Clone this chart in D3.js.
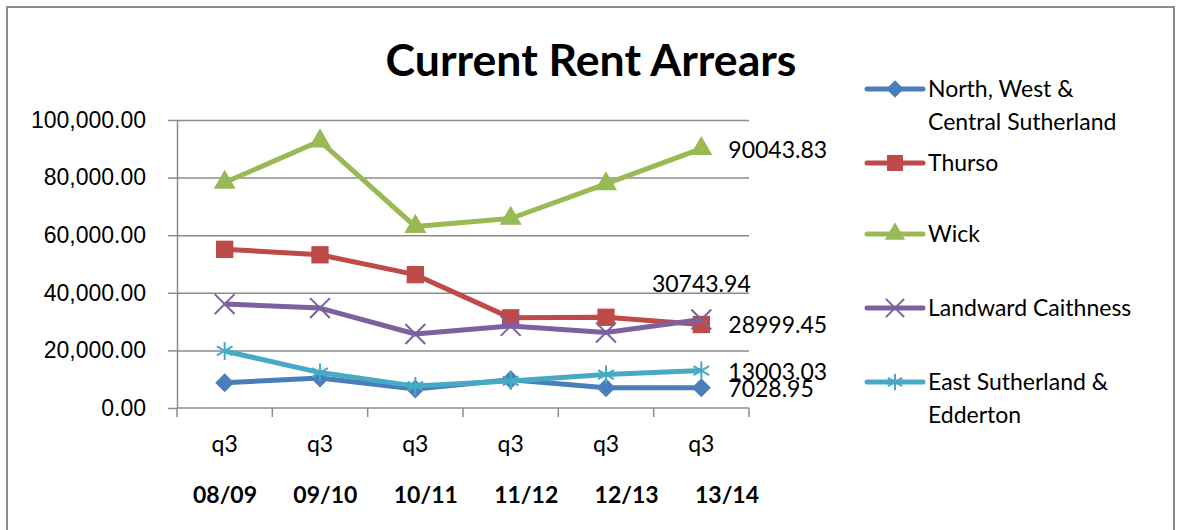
<!DOCTYPE html>
<html>
<head>
<meta charset="utf-8">
<script src="https://cdn.jsdelivr.net/npm/d3@7"></script>
<style>
  body { margin: 0; background: #fff; }
  svg { display: block; font-family: Lato, "Open Sans", sans-serif; }
  .grid line { stroke: #8c8c8c; stroke-width: 1.5; }
  .grid .domain { display: none; }
  .axis .domain, .axis line { stroke: #8c8c8c; stroke-width: 1.5; }
  .axis text { font-size: 23px; fill: #000; }
</style>
</head>
<body>
<svg id="chart"></svg>
<script>
// quarters and financial years
var quarters = ['q3', 'q3', 'q3', 'q3', 'q3', 'q3'];
var years = ['08/09', '09/10', '10/11', '11/12', '12/13', '13/14'];

// series values
var northWest = [8800, 10400, 6600, 9800, 7000, 7028.95];
var thurso = [55100, 53200, 46300, 31300, 31500, 28999.45];
var wick = [78300, 92700, 63000, 65800, 77800, 90043.83];
var landward = [36100, 34700, 25700, 28500, 26200, 30743.94];
var eastSutherland = [19800, 12300, 7600, 9400, 11600, 13003.03];

var seriesNames = ['North, West & Central Sutherland', 'Thurso', 'Wick', 'Landward Caithness', 'East Sutherland & Edderton'];
var yTicks = [0, 20000, 40000, 60000, 80000, 100000];

var series = [
  { name: seriesNames[0], values: northWest, color: '#4A7EBB', symbol: 'diamond', label: 'right',
    legend: ['North, West &', 'Central Sutherland'] },
  { name: seriesNames[1], values: thurso, color: '#BE4B48', symbol: 'square', label: 'right',
    legend: ['Thurso'] },
  { name: seriesNames[2], values: wick, color: '#98B954', symbol: 'triangle', label: 'right',
    legend: ['Wick'] },
  { name: seriesNames[3], values: landward, color: '#7D60A0', symbol: 'times', label: 'above',
    legend: ['Landward Caithness'] },
  { name: seriesNames[4], values: eastSutherland, color: '#46AAC5', symbol: 'asterisk', label: 'right',
    legend: ['East Sutherland &', 'Edderton'] }
];

var W = 1177, H = 530;
var plot = { left: 177, right: 749, top: 120, bottom: 408 };

var svg = d3.select('#chart').attr('width', W).attr('height', H);

// outer frame
svg.append('rect')
  .attr('x', 7).attr('y', 7)
  .attr('width', 1167).attr('height', 540)
  .attr('fill', 'none')
  .attr('stroke', '#8c8c8c')
  .attr('stroke-width', 2);

var idx = d3.range(years.length);
var x = d3.scaleBand().domain(idx).range([plot.left, plot.right]).padding(0);
var y = d3.scaleLinear().domain([0, 100000]).range([plot.bottom, plot.top]);
// the year row sits a little wider than the quarter row
var xYear = d3.scalePoint().domain(idx).range([225, 727]);

var cx = function (i) { return x(i) + x.bandwidth() / 2; };

// gridlines
svg.append('g')
  .attr('class', 'grid')
  .attr('transform', 'translate(' + plot.left + ',0)')
  .call(d3.axisLeft(y).tickValues(yTicks.slice(1)).tickSize(-(plot.right - plot.left)).tickFormat(''));

// y axis
svg.append('g')
  .attr('class', 'axis')
  .attr('transform', 'translate(' + plot.left + ',0)')
  .call(d3.axisLeft(y).tickValues(yTicks).tickSize(9).tickSizeOuter(0).tickPadding(22)
    .tickFormat(d3.format(',.2f')));

// x axis with ticks between categories
var xAxis = svg.append('g')
  .attr('class', 'axis')
  .attr('transform', 'translate(0,' + plot.bottom + ')');
xAxis.append('line')
  .attr('x1', plot.left).attr('x2', plot.right);
xAxis.selectAll('.tick-between')
  .data(d3.range(years.length + 1))
  .enter().append('line')
  .attr('class', 'tick-between')
  .attr('x1', function (d) { return d < years.length ? x(d) : plot.right; })
  .attr('x2', function (d) { return d < years.length ? x(d) : plot.right; })
  .attr('y1', 0).attr('y2', 9);

xAxis.selectAll('.q')
  .data(idx)
  .enter().append('text')
  .attr('x', cx)
  .attr('y', 44)
  .attr('text-anchor', 'middle')
  .text(function (d) { return quarters[d]; });

xAxis.selectAll('.yr')
  .data(idx)
  .enter().append('text')
  .attr('x', function (d) { return xYear(d); })
  .attr('y', 95)
  .attr('text-anchor', 'middle')
  .style('font-weight', 'bold')
  .text(function (d) { return years[d]; });

// markers
var symbolFor = function (name, scale) {
  scale = scale || 1;
  if (name === 'diamond') return d3.symbol().type(d3.symbolSquare).size(180 * scale)();
  if (name === 'square') return d3.symbol().type(d3.symbolSquare).size(300 * scale)();
  if (name === 'triangle') return d3.symbol().type(d3.symbolTriangle).size(210 * scale)();
  if (name === 'times') return d3.symbol().type(d3.symbolTimes).size(260 * scale)();
  return d3.symbol().type(d3.symbolAsterisk).size(230 * scale)();
};
var isStroke = function (name) { return name === 'times' || name === 'asterisk'; };

var drawMarker = function (sel, s, scale) {
  sel.append('path')
    .attr('d', symbolFor(s.symbol, scale))
    .attr('transform', s.symbol === 'diamond' ? 'rotate(45)' : null)
    .attr('fill', isStroke(s.symbol) ? 'none' : s.color)
    .attr('stroke', isStroke(s.symbol) ? s.color : 'none')
    .attr('stroke-width', 2);
};

var line = d3.line()
  .x(function (d, i) { return cx(i); })
  .y(function (d) { return y(d); });

// draw series in Excel's order
series.forEach(function (s) {
  var g = svg.append('g');
  g.append('path')
    .attr('d', line(s.values))
    .attr('fill', 'none')
    .attr('stroke', s.color)
    .attr('stroke-width', 5)
    .attr('stroke-linejoin', 'round');
  g.selectAll('.pt')
    .data(s.values)
    .enter().append('g')
    .attr('transform', function (d, i) { return 'translate(' + cx(i) + ',' + y(d) + ')'; })
    .each(function () { drawMarker(d3.select(this), s, 1); });
});

// last-value labels
series.forEach(function (s) {
  var last = s.values.length - 1;
  var v = s.values[last];
  var t = svg.append('text')
    .style('font-size', '23px')
    .text(d3.format('.2f')(v).replace(/0$/, '').replace(/\.$/, ''));
  if (s.label === 'above') {
    t.attr('x', cx(last)).attr('y', y(v) - 27).attr('text-anchor', 'middle');
  } else {
    t.attr('x', cx(last) + 27).attr('y', y(v) + 9);
  }
});

// legend
var legendRows = [89, 163, 234, 308, 382];
var legend = svg.selectAll('.legend')
  .data(series)
  .enter().append('g')
  .attr('class', 'legend')
  .attr('transform', function (d, i) { return 'translate(867,' + legendRows[i] + ')'; });

legend.append('line')
  .attr('x1', 0).attr('x2', 56)
  .attr('stroke', function (d) { return d.color; })
  .attr('stroke-width', 5)
  .attr('stroke-linecap', 'round');

legend.append('g')
  .attr('transform', 'translate(28,0)')
  .each(function (d) { drawMarker(d3.select(this), d, 0.85); });

legend.append('text')
  .attr('x', 61)
  .style('font-size', '23px')
  .selectAll('tspan')
  .data(function (d) { return d.legend; })
  .enter().append('tspan')
  .attr('x', 61)
  .attr('y', function (d, i) { return 8 + i * 33; })
  .text(function (d) { return d; });

// title
var title = svg.append('text')
  .attr('x', 591)
  .attr('y', 76)
  .attr('text-anchor', 'middle')
  .style('font-weight', 'bold')
  .style('font-size', '40px')
  .text('Current Rent Arrears');
var tw = title.node().getComputedTextLength();
title.style('font-size', (40 * 411 / tw) + 'px');
</script>
</body>
</html>
